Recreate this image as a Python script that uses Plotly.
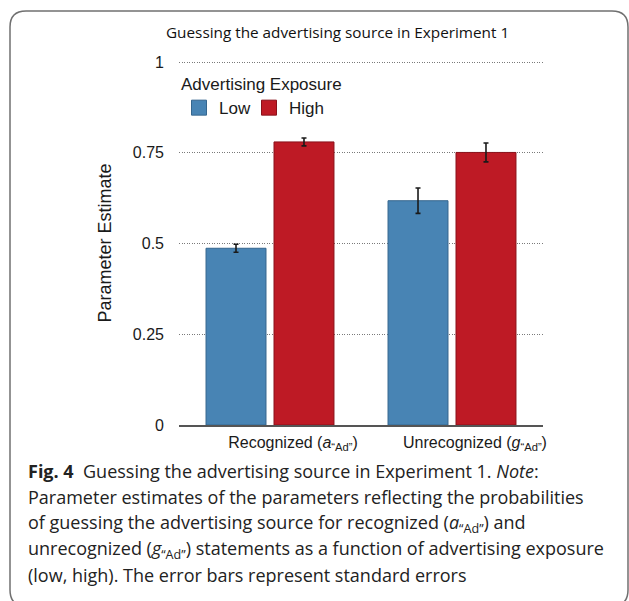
import plotly.graph_objects as go

# Parameter estimates with standard errors
categories = ["Recognized (<i>a</i><sub>“Ad”</sub>)", "Unrecognized (<i>g</i><sub>“Ad”</sub>)"]
low_values = [0.487, 0.618]
low_se = [0.011, 0.035]
high_values = [0.780, 0.751]
high_se = [0.011, 0.026]
y_ticks = [0, 0.25, 0.5, 0.75, 1]
y_tick_labels = ["0", "0.25", "0.5", "0.75", "1"]

W, H = 629, 601
L, R, T, B = 179, 543, 61, 425   # plot area in pixels


def px(x):
    return (x - L) / (R - L)


def py(y):
    return (B - y) / (B - T)


BLUE, BLUE_EDGE = "#4884b4", "#35668e"
RED, RED_EDGE = "#be1a25", "#8a111a"

fig = go.Figure()
for name, vals, se, col, edge in [("Low", low_values, low_se, BLUE, BLUE_EDGE),
                                  ("High", high_values, high_se, RED, RED_EDGE)]:
    fig.add_trace(go.Bar(
        x=categories, y=vals, name=name, showlegend=False,
        marker=dict(color=col, line=dict(color=edge, width=1)),
        error_y=dict(type="data", array=se, color="#1a1a1a", thickness=1.6, width=2.5),
    ))
    # legend entry with a larger square swatch
    fig.add_trace(go.Scatter(
        x=[None], y=[None], mode="markers", name=name,
        marker=dict(symbol="square", size=15, color=col, line=dict(color=edge, width=1)),
    ))

fig.update_layout(
    width=W, height=H,
    margin=dict(l=L, r=W - R, t=T, b=H - B, pad=0),
    paper_bgcolor="white", plot_bgcolor="white",
    barmode="group", bargap=0.253, bargroupgap=0.118,
    font=dict(family="Liberation Sans, Arial, sans-serif", color="#1a1a1a"),
    legend=dict(
        orientation="h", x=px(179), y=py(68), xanchor="left", yanchor="top",
        title=dict(text="Advertising Exposure", side="top", font=dict(size=17)),
        font=dict(size=17), bgcolor="rgba(0,0,0,0)", itemwidth=30,
        entrywidth=25, entrywidthmode="pixels",
    ),
    showlegend=True,
)

fig.update_xaxes(
    type="category", range=[-0.5, 1.5], showgrid=False, zeroline=False,
    showline=True, linecolor="#555555", linewidth=1.5,
    ticks="", tickfont=dict(size=16), ticklabelshift=23, ticklabelstandoff=2,
)
fig.update_yaxes(
    range=[0, 1.003], tickvals=y_ticks, ticktext=y_tick_labels,
    showgrid=True, gridcolor="#7a7a7a", griddash="1px,1.5px", gridwidth=1,
    zeroline=False, showline=False, ticks="", tickfont=dict(size=16),
    ticklabelstandoff=14,
    title=dict(text="Parameter Estimate", font=dict(size=18), standoff=16),
)

# chart heading
fig.add_annotation(
    x=px(337), y=py(32), xref="paper", yref="paper", showarrow=False,
    text="Guessing the advertising source in Experiment 1",
    font=dict(family="Open Sans, sans-serif", size=15.3, color="#111111"),
    xanchor="center", yanchor="middle",
)

# figure caption
caption_lines = [
    "<b>Fig. 4</b>  Guessing the advertising source in Experiment 1. <i>Note</i>:",
    "Parameter estimates of the parameters reflecting the probabilities",
    "of guessing the advertising source for recognized (<i>a</i><sub>“Ad”</sub>) and",
    "unrecognized (<i>g</i><sub>“Ad”</sub>) statements as a function of advertising exposure",
    "(low, high). The error bars represent standard errors",
]
for i, line in enumerate(caption_lines):
    fig.add_annotation(
        x=px(26), y=py(471 + 26 * i), xref="paper", yref="paper", showarrow=False,
        text=line, xanchor="left", yanchor="middle", align="left",
        font=dict(family="Open Sans, sans-serif", size=18, color="#222222"),
    )

# rounded outer frame
x0, y0, x1, y1, r = px(10), py(11), px(628), py(606), 16 / (R - L)
ry = 16 / (B - T)
frame = (f"M {x0} {y0 - ry} Q {x0} {y0} {x0 + r} {y0} "
         f"L {x1 - r} {y0} Q {x1} {y0} {x1} {y0 - ry} "
         f"L {x1} {y1 + ry} Q {x1} {y1} {x1 - r} {y1} "
         f"L {x0 + r} {y1} Q {x0} {y1} {x0} {y1 + ry} Z")
fig.add_shape(type="path", path=frame, xref="paper", yref="paper",
              line=dict(color="#707070", width=1.5), layer="below")

fig.write_html("out.html")
